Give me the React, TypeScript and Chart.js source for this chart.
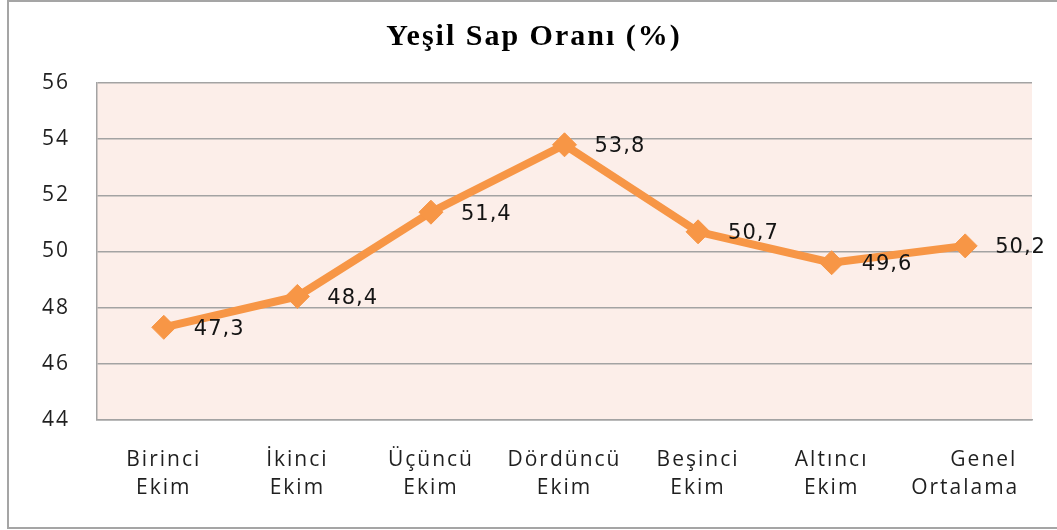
import React, { useEffect, useRef } from "react";
import { Chart, registerables } from "chart.js";

Chart.register(...registerables);

const categories: string[][] = [
  ["Birinci", "Ekim"],
  ["İkinci", "Ekim"],
  ["Üçüncü", "Ekim"],
  ["Dördüncü", "Ekim"],
  ["Beşinci", "Ekim"],
  ["Altıncı", "Ekim"],
  ["     Genel", "Ortalama"],
];
const values: number[] = [47.3, 48.4, 51.4, 53.8, 50.7, 49.6, 50.2];
const yTicks = { min: 44, max: 56, step: 2 };
const titleText = "Yeşil Sap Oranı (%)";

const ORANGE = "#F79646";
const GRID = "#A3A3A3";

const bgPlugin = {
  id: "bgPlugin",
  beforeDraw(chart: any) {
    const { ctx, chartArea } = chart;
    ctx.save();
    ctx.fillStyle = "#FCEEE9";
    ctx.fillRect(chartArea.left, chartArea.top, chartArea.right - chartArea.left, chartArea.bottom - chartArea.top);
    ctx.restore();
    try {
      ctx.letterSpacing = "2px";
    } catch (e) {}
  },
};

const labelPlugin = {
  id: "labelPlugin",
  afterDatasetsDraw(chart: any) {
    const { ctx } = chart;
    const meta = chart.getDatasetMeta(0);
    ctx.save();
    try {
      ctx.letterSpacing = "1px";
    } catch (e) {}
    ctx.font = "21px 'DejaVu Sans'";
    ctx.fillStyle = "#141414";
    ctx.textAlign = "left";
    ctx.textBaseline = "middle";
    meta.data.forEach((pt: any, i: number) => {
      const txt = values[i].toFixed(1).replace(".", ",");
      ctx.fillText(txt, pt.x + 30, pt.y + 2);
    });
    ctx.restore();
  },
};

export default function App() {
  const ref = useRef<HTMLCanvasElement | null>(null);

  useEffect(() => {
    if (!ref.current) return;
    const chart = new Chart(ref.current, {
      type: "line",
      data: {
        labels: categories,
        datasets: [
          {
            data: values,
            borderColor: ORANGE,
            backgroundColor: ORANGE,
            borderWidth: 8,
            tension: 0,
            pointStyle: "rectRot",
            pointRadius: 12,
            pointHoverRadius: 12,
            pointBackgroundColor: ORANGE,
            pointBorderColor: ORANGE,
            pointBorderWidth: 1,
          },
        ],
      },
      options: {
        responsive: false,
        animation: false,
        layout: { padding: { left: 36, right: 25, top: 0, bottom: 0 } },
        plugins: {
          legend: { display: false },
          tooltip: { enabled: false },
          title: {
            display: true,
            text: titleText,
            color: "#000",
            font: { family: "'Liberation Serif', serif", size: 30, weight: "bold", lineHeight: 1.2 },
            padding: { top: 19, bottom: 28 },
          },
        },
        scales: {
          x: {
            offset: true,
            grid: { display: false, drawTicks: false },
            border: { display: true, color: GRID, width: 1.5 },
            ticks: {
              color: "#1f1f1f",
              font: { family: "'Open Sans'", size: 21, lineHeight: 1.333 },
              padding: 26,
              maxRotation: 0,
              autoSkip: false,
            },
            afterFit(scale: any) {
              scale.height = 110;
            },
          },
          y: {
            min: yTicks.min,
            max: yTicks.max,
            grid: { color: GRID, lineWidth: 1.5, drawTicks: false },
            border: { display: true, color: GRID, width: 1.5 },
            ticks: {
              stepSize: yTicks.step,
              color: "#1f1f1f",
              font: { family: "'Open Sans'", size: 21 },
              padding: 27,
            },
            afterFit(scale: any) {
              scale.width = 61;
            },
          },
        },
      },
      plugins: [bgPlugin, labelPlugin],
    } as any);
    return () => chart.destroy();
  }, []);

  return (
    <div style={{ position: "fixed", left: 0, top: 0, width: 1057, height: 530, background: "#fff", overflow: "hidden" }}>
      <div
        style={{
          position: "absolute",
          left: 7,
          top: 0,
          width: 1100,
          height: 529,
          border: "2px solid #A5A5A5",
          boxSizing: "border-box",
        }}
      />
      <canvas ref={ref} width={1057} height={530} style={{ position: "absolute", left: 0, top: 0, width: 1057, height: 530 }} />
    </div>
  );
}
